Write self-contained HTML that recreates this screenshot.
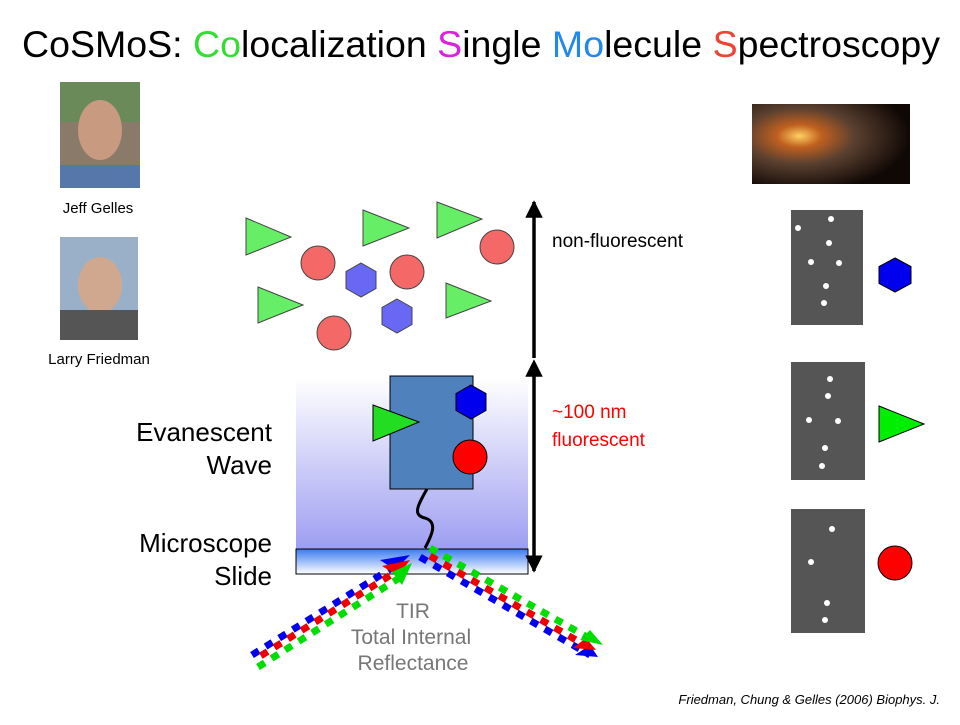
<!DOCTYPE html>
<html><head><meta charset="utf-8"><style>
body{margin:0;width:960px;height:720px;background:#fff;overflow:hidden;font-family:"Liberation Sans",sans-serif}
</style></head><body>
<svg width="960" height="720" xmlns="http://www.w3.org/2000/svg" font-family="Liberation Sans, sans-serif">
<defs>
<linearGradient id="ev" x1="0" y1="0" x2="0" y2="1"><stop offset="0" stop-color="#fff"/><stop offset="1" stop-color="#9e9ef2"/></linearGradient>
<linearGradient id="sl" x1="0" y1="0" x2="0" y2="1"><stop offset="0" stop-color="#3a7af0"/><stop offset="1" stop-color="#fff"/></linearGradient>
<radialGradient id="gx" cx="0.3" cy="0.4" r="0.7"><stop offset="0" stop-color="#ffd060"/><stop offset="0.2" stop-color="#c06020"/><stop offset="0.5" stop-color="#5a4030"/><stop offset="1" stop-color="#100805"/></radialGradient>
<marker id="ah" viewBox="0 0 10 10" refX="9" refY="5" markerWidth="5" markerHeight="5" orient="auto"><path d="M0,0L10,5L0,10z" fill="#000"/></marker>
<marker id="ah2" viewBox="0 0 10 10" refX="1" refY="5" markerWidth="5" markerHeight="5" orient="auto-start-reverse"><path d="M0,0L10,5L0,10z" fill="#000"/></marker>
</defs>
<text x="22" y="57" font-size="37" textLength="918" lengthAdjust="spacingAndGlyphs">CoSMoS: <tspan fill="#33dd33">Co</tspan>localization <tspan fill="#dd22dd">S</tspan>ingle <tspan fill="#2288ee">Mo</tspan>lecule <tspan fill="#ee4433">S</tspan>pectroscopy</text>
<!-- photos -->
<rect x="60" y="82" width="80" height="106" fill="#8a7a6a"/><rect x="60" y="82" width="80" height="40" fill="#6a8a5a"/><ellipse cx="100" cy="130" rx="22" ry="30" fill="#c89a80"/><rect x="60" y="165" width="80" height="23" fill="#5577aa"/>
<text x="98" y="213" font-size="15" text-anchor="middle">Jeff Gelles</text>
<rect x="60" y="237" width="78" height="103" fill="#9ab0c8"/><ellipse cx="100" cy="285" rx="22" ry="28" fill="#d0a890"/><rect x="60" y="310" width="78" height="30" fill="#555"/>
<text x="99" y="364" font-size="15" text-anchor="middle">Larry Friedman</text>
<!-- top molecules -->
<g stroke="#444" stroke-width="1" fill="#66ee66">
<polygon points="246,218 291,237 246,255"/><polygon points="363,210 409,228 363,246"/><polygon points="437,202 482,219 437,238"/><polygon points="258,287 303,305 258,323"/><polygon points="446,283 491,301 446,318"/>
</g>
<g stroke="#444" stroke-width="1" fill="#f46868">
<circle cx="318" cy="263" r="17"/><circle cx="407" cy="272" r="17"/><circle cx="497" cy="247" r="17"/><circle cx="334" cy="333" r="17"/>
</g>
<g stroke="#444" stroke-width="1" fill="#6868f4">
<polygon points="361,263 376,271.5 376,288.5 361,297 346,288.5 346,271.5"/><polygon points="397,299 412,307.5 412,324.5 397,333 382,324.5 382,307.5"/>
</g>
<line x1="534" y1="358" x2="534" y2="202" stroke="#000" stroke-width="3.5" marker-end="url(#ah)"/>
<text x="552" y="247" font-size="19">non-fluorescent</text>
<!-- evanescent -->
<rect x="296" y="378" width="232" height="171" fill="url(#ev)"/>
<rect x="296" y="549" width="232" height="25" fill="url(#sl)" stroke="#000" stroke-width="1"/>
<line x1="534" y1="375" x2="534" y2="571" stroke="#000" stroke-width="3.5" marker-end="url(#ah)" marker-start="url(#ah2)"/>
<text x="552" y="418" font-size="19" fill="#ff0000">~100 nm</text>
<text x="552" y="446" font-size="19" fill="#ff0000">fluorescent</text>
<rect x="390" y="376" width="83" height="113" fill="#4f81bd" stroke="#000" stroke-width="1"/>
<path d="M427,489 C418,505 412,515 425,518 C438,522 432,535 425,548" fill="none" stroke="#000" stroke-width="3"/>
<polygon points="471,385 486,393.5 486,410.5 471,419 456,410.5 456,393.5" fill="#0000ee" stroke="#000"/>
<circle cx="470" cy="457" r="17" fill="#ff0000" stroke="#000"/>
<polygon points="373,405 419,422 373,441" fill="#22dd22" stroke="#000"/>
<g font-size="26" text-anchor="end"><text x="272" y="441">Evanescent</text><text x="272" y="474">Wave</text><text x="272" y="552">Microscope</text><text x="272" y="585">Slide</text></g>
<!-- beams -->
<g stroke-width="7" fill="none" stroke-dasharray="8,8">
<line x1="252" y1="655" x2="400" y2="563" stroke="#0000ee"/>
<line x1="254" y1="660" x2="402" y2="568" stroke="#ee0000" stroke-dashoffset="8"/>
<line x1="258" y1="667" x2="404" y2="575" stroke="#00dd00"/>
<line x1="420" y1="557" x2="590" y2="655" stroke="#0000ee"/>
<line x1="423" y1="552" x2="590" y2="648" stroke="#ee0000" stroke-dashoffset="8"/>
<line x1="430" y1="548" x2="594" y2="641" stroke="#00dd00"/>
</g>
<polygon points="380,560 410,555 395,570" fill="#0000ee"/><polygon points="382,566 410,560 398,576" fill="#ee0000"/><polygon points="392,572 412,563 402,585" fill="#00dd00"/>
<polygon points="575,655 598,657 590,645" fill="#0000ee"/><polygon points="573,648 596,650 586,638" fill="#ee0000"/><polygon points="580,640 603,645 590,630" fill="#00dd00"/>
<g font-size="21" fill="#777" text-anchor="middle"><text x="413" y="618">TIR</text><text x="411" y="644">Total Internal</text><text x="413" y="670">Reflectance</text></g>
<!-- right -->
<rect x="752" y="104" width="158" height="80" fill="url(#gx)"/>
<g fill="#555"><rect x="791" y="210" width="72" height="115"/><rect x="791" y="362" width="74" height="118"/><rect x="791" y="509" width="74" height="124"/></g>
<g fill="#fff">
<circle cx="798" cy="228" r="3"/><circle cx="831" cy="219" r="3"/><circle cx="829" cy="243" r="3"/><circle cx="811" cy="262" r="3"/><circle cx="839" cy="263" r="3"/><circle cx="826" cy="286" r="3"/><circle cx="824" cy="303" r="3"/>
<circle cx="830" cy="379" r="3"/><circle cx="828" cy="396" r="3"/><circle cx="809" cy="420" r="3"/><circle cx="838" cy="421" r="3"/><circle cx="825" cy="448" r="3"/><circle cx="822" cy="466" r="3"/>
<circle cx="832" cy="529" r="3"/><circle cx="811" cy="562" r="3"/><circle cx="827" cy="603" r="3"/><circle cx="825" cy="620" r="3"/>
</g>
<polygon points="895,258 911,266.5 911,283.5 895,292 879,283.5 879,266.5" fill="#0000ee" stroke="#000"/>
<polygon points="879,406 924,424 879,442" fill="#00ee00" stroke="#000"/>
<circle cx="895" cy="563" r="17" fill="#ff0000" stroke="#000"/>
<text x="940" y="704" font-size="13" font-style="italic" text-anchor="end">Friedman, Chung &amp; Gelles (2006) Biophys. J.</text>
</svg>
</body></html>
